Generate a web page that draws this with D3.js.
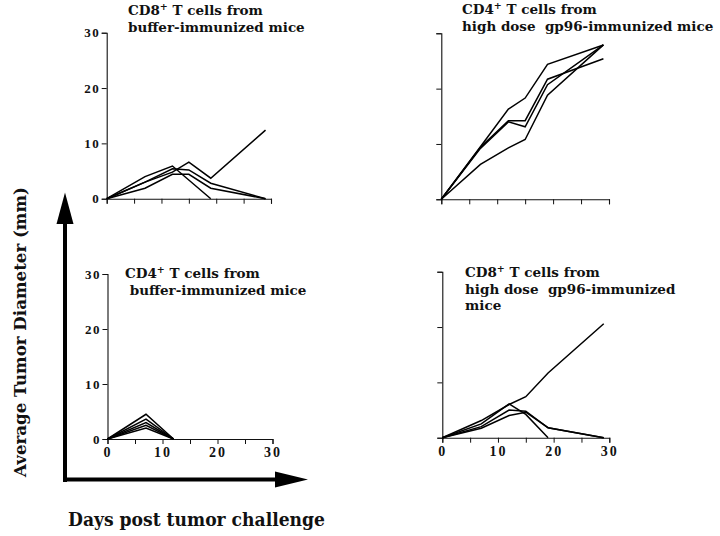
<!DOCTYPE html>
<html>
<head>
<meta charset="utf-8">
<script src="https://cdn.jsdelivr.net/npm/d3@7"></script>
<style>
  html, body { margin: 0; padding: 0; background: #fff; }
  svg { display: block; }
</style>
</head>
<body>
<svg id="chart" width="720" height="536"></svg>
<script>
// ---------- DATA ----------
const yTicks = [0, 10, 20, 30];
const xTicks = [0, 5, 10, 15, 20, 25, 30];
const xTickLabels = [0, 10, 20, 30];
const yTitle = "Average Tumor Diameter (mm)";
const xTitle = "Days post tumor challenge";

// each series: [day, diameter] pairs
const cd8BufferSeries = [
  [[0,0],[7,4.0],[12,5.9],[19,0]],
  [[0,0],[7,3.0],[12,4.8],[15,6.6],[19,3.7],[29,12.4]],
  [[0,0],[7,3.0],[12,5.4],[15,5.2],[19,2.8],[29,0]],
  [[0,0],[7,1.9],[12,4.4],[15,4.4],[19,1.9],[29,0]]
];
const cd4HighSeries = [
  [[0,0],[7,9.5],[12,16.3],[15,18.3],[19,24.4],[29,27.9]],
  [[0,0],[7,9.4],[12,14.2],[15,14.2],[19,21.7],[29,25.4]],
  [[0,0],[7,9.2],[12,14.0],[15,13.1],[19,20.7],[29,27.9]],
  [[0,0],[7,6.3],[12,9.3],[15,10.8],[19,18.8],[29,27.9]]
];
const cd4BufferSeries = [
  [[0,0],[7,4.5],[12,0]],
  [[0,0],[7,3.6],[12,0]],
  [[0,0],[7,3.0],[12,0]],
  [[0,0],[7,2.5],[12,0]],
  [[0,0],[7,2.0],[12,0]]
];
const cd8HighSeries = [
  [[0,0],[7,3.1],[12,6.0],[15,7.4],[19,11.7],[29,20.6]],
  [[0,0],[7,2.5],[12,6.1],[15,4.2],[19,0]],
  [[0,0],[7,2.0],[12,5.0],[15,4.8],[19,1.8],[29,0]],
  [[0,0],[7,1.7],[12,4.0],[15,4.6],[19,1.8],[29,0]]
];

const cd8BufferTitle = [["CD8", "+", " T cells from"], ["buffer-immunized mice"]];
const cd4HighTitle = [["CD4", "+", " T cells from"], ["high dose\u00a0\u00a0gp96-immunized mice"]];
const cd4BufferTitle = [["CD4", "+", " T cells from"], ["\u00a0buffer-immunized mice"]];
const cd8HighTitle = [["CD8", "+", " T cells from"], ["high dose\u00a0\u00a0gp96-immunized"], ["mice"]];

// ---------- LAYOUT ----------
const panels = [
  { series: cd8BufferSeries, title: cd8BufferTitle, x0: 106.7, x1: 271, yb: 198.7, yt: 32.7, xLab: false, yLab: true,  tx: 128, ty: 15, lh: 17 },
  { series: cd4HighSeries,   title: cd4HighTitle,   x0: 441.3, x1: 609, yb: 199.3, yt: 33.3, xLab: false, yLab: false, tx: 462, ty: 14, lh: 17 },
  { series: cd4BufferSeries, title: cd4BufferTitle, x0: 107.5, x1: 272.5, yb: 439, yt: 274, xLab: true,  yLab: true,  tx: 125, ty: 278, lh: 17 },
  { series: cd8HighSeries,   title: cd8HighTitle,   x0: 442.3, x1: 609.3, yb: 437.7, yt: 271.7, xLab: true, yLab: false, tx: 465, ty: 277, lh: 16.5 }
];

const svg = d3.select("#chart");
const titleFont = "'DejaVu Serif', serif";
const tickFont = "'Liberation Serif', 'Times New Roman', serif";

panels.forEach(p => {
  const x = d3.scaleLinear().domain([0, 30]).range([p.x0, p.x1]);
  const y = d3.scaleLinear().domain([0, 30]).range([p.yb, p.yt]);
  const g = svg.append("g");

  const yAxis = d3.axisLeft(y).tickValues(yTicks).tickSize(5).tickPadding(1.5)
    .tickFormat(p.yLab ? d3.format("d") : () => "");
  const ya = g.append("g").attr("transform", `translate(${p.x0},0)`).call(yAxis);

  const xAxis = d3.axisBottom(x).tickValues(xTicks).tickSize(5).tickPadding(3)
    .tickFormat(d => (p.xLab && xTickLabels.includes(d)) ? d : "");
  const xa = g.append("g").attr("transform", `translate(0,${p.yb})`).call(xAxis);

  [ya, xa].forEach(a => {
    a.select(".domain").attr("stroke", "#111").attr("stroke-width", 1.1);
    a.selectAll(".tick line").attr("stroke", "#111").attr("stroke-width", 1);
    a.selectAll("text").attr("fill", "#111").attr("font-family", tickFont).attr("font-weight", "bold");
  });
  ya.selectAll("text").attr("font-size", 13).attr("letter-spacing", "1.5px");
  xa.selectAll("text").attr("font-size", 14).attr("letter-spacing", "2px");

  const line = d3.line().x(d => x(d[0])).y(d => y(d[1]));
  g.selectAll("path.series").data(p.series).enter().append("path")
    .attr("class", "series")
    .attr("d", line)
    .attr("fill", "none")
    .attr("stroke", "#000")
    .attr("stroke-width", 1.5)
    .attr("stroke-linejoin", "miter");

  const t = g.append("text")
    .attr("font-family", titleFont).attr("font-weight", "bold")
    .attr("font-size", 13.5).attr("fill", "#111");
  p.title.forEach((ln, i) => {
    const base = p.ty + i * p.lh;
    if (ln.length === 3) {
      t.append("tspan").attr("x", p.tx).attr("y", base).text(ln[0]);
      t.append("tspan").attr("y", base - 5).attr("font-size", 9.5).text(ln[1]);
      t.append("tspan").attr("y", base).text(ln[2]);
    } else {
      t.append("tspan").attr("x", p.tx).attr("y", base).text(ln[0]);
    }
  });
});

// ---------- big arrows ----------
const arrows = svg.append("g").attr("fill", "#000").attr("stroke", "none");
arrows.append("rect").attr("x", 63).attr("y", 220).attr("width", 4).attr("height", 262);
arrows.append("path").attr("d", "M56.5,224 L73.5,224 L65,192.5 Z");
arrows.append("rect").attr("x", 63).attr("y", 477.5).attr("width", 214).attr("height", 4);
arrows.append("path").attr("d", "M275,471.5 L275,487.5 L308,479.5 Z");

// ---------- titles ----------
svg.append("text")
  .attr("transform", "translate(26,332) rotate(-90)")
  .attr("text-anchor", "middle")
  .attr("font-family", titleFont).attr("font-weight", "bold")
  .attr("font-size", 17.5).attr("fill", "#111")
  .attr("textLength", 290).attr("lengthAdjust", "spacingAndGlyphs")
  .text(yTitle);

svg.append("text")
  .attr("x", 68).attr("y", 526)
  .attr("font-family", titleFont).attr("font-weight", "bold")
  .attr("font-size", 18.5).attr("fill", "#111")
  .attr("textLength", 257).attr("lengthAdjust", "spacingAndGlyphs")
  .text(xTitle);
</script>
</body>
</html>
